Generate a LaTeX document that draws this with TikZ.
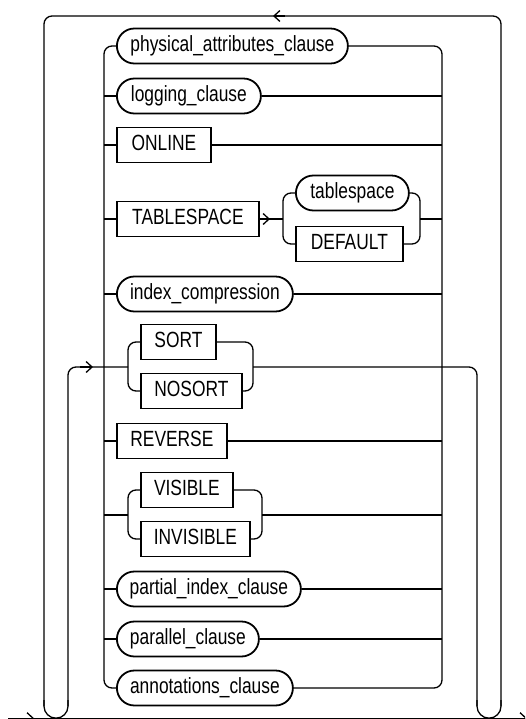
\documentclass[tikz,border=0pt]{standalone}
\usepackage{fontspec}
\setmainfont{Liberation Sans}[FakeStretch=0.79]
\usetikzlibrary{arrows.meta}
\begin{document}
\begin{tikzpicture}[x=1pt,y=-1pt,
  font=\fontsize{22}{26}\selectfont,
  rail/.style={line width=1.3pt},
  kw/.style={draw, rectangle, line width=1.8pt, minimum height=35pt, inner sep=0pt,
             text height=16pt, text depth=4.5pt, anchor=west},
  nt/.style={kw, rounded corners=17.5pt},
  barb/.style={-{Straight Barb[length=6pt,width=11pt]}}]
\useasboundingbox (0,0) rectangle (525,719);
\clip (0,0) rectangle (525,719);

% nodes
\node[nt, minimum width=231pt] (phys) at (116,46) {physical\_attributes\_clause};
\node[nt, minimum width=144pt] (logg) at (116,96) {logging\_clause};
\node[kw, minimum width=94pt] (onl) at (116,145) {ONLINE};
\node[kw, minimum width=142pt] (tbs) at (116,219) {TABLESPACE};
\node[nt, minimum width=113pt] (tsn) at (295,193) {tablespace};
\node[kw, minimum width=107pt] (dflt) at (295,244) {DEFAULT};
\node[nt, minimum width=176pt] (idx) at (116,294) {index\_compression};
\node[kw, minimum width=75pt] (sort) at (140,342) {SORT};
\node[kw, minimum width=101pt] (nosort) at (140,391) {NOSORT};
\node[kw, minimum width=110pt] (rev) at (116,441) {REVERSE};
\node[kw, minimum width=92pt] (vis) at (140,490) {VISIBLE};
\node[kw, minimum width=109pt] (invis) at (140,539) {INVISIBLE};
\node[nt, minimum width=184pt] (part) at (116,589) {partial\_index\_clause};
\node[nt, minimum width=142pt] (par) at (116,639) {parallel\_clause};
\node[nt, minimum width=176pt] (ann) at (116,688) {annotations\_clause};

% helper coordinates
\coordinate (L) at (104,0);
\coordinate (R) at (442,0);
\coordinate (tsL) at (283,219);
\coordinate (tsR) at (420,219);
\coordinate (tsArr) at (270,219);
\coordinate (sL) at (128,367);
\coordinate (sR) at (253,367);
\coordinate (vL) at (128,515);
\coordinate (vR) at (262,515);
\coordinate (sArr) at (93,367);

% inner choice rails
\draw[rail, rounded corners=8] (phys.west) -- (L|-phys.west) -- (L|-ann.west) -- (ann.west);
\draw[rail, rounded corners=8] (phys.east) -- (R|-phys.east) -- (R|-ann.east) -- (ann.east);
\foreach \n in {logg,onl,tbs,idx,rev,part,par} {
  \draw[rail] (L|-\n.west) -- (\n.west);
}
\foreach \n in {logg,onl,idx,rev,part,par} {
  \draw[rail] (\n.east) -- (R|-\n.east);
}

% TABLESPACE choice
\draw[rail] (tbs.east) -- (tsL);
\draw[rail, barb] (tbs.east) -- (tsArr);
\draw[rail, rounded corners=8] (tsn.west) -- (tsL|-tsn.west) -- (tsL|-dflt.west) -- (dflt.west);
\draw[rail, rounded corners=8] (tsn.east) -- (tsR|-tsn.east) -- (tsR|-dflt.east) -- (dflt.east);
\draw[rail] (tsR) -- (R|-tsR);

% SORT choice
\draw[rail, rounded corners=8] (sort.west) -- (sL|-sort.west) -- (sL|-nosort.west) -- (nosort.west);
\draw[rail, rounded corners=8] (sort.east) -- (sR|-sort.east) -- (sR|-nosort.east) -- (nosort.east);

% VISIBLE choice
\draw[rail, rounded corners=8] (vis.west) -- (vL|-vis.west) -- (vL|-invis.west) -- (invis.west);
\draw[rail, rounded corners=8] (vis.east) -- (vR|-vis.east) -- (vR|-invis.east) -- (invis.east);
\draw[rail] (L|-vL) -- (vL);
\draw[rail] (vR) -- (R|-vR);

% big loops
\draw[rail, rounded corners=8] (sR) -- (477,367) -- (477,706);
\draw[rail, rounded corners=12] (477,700) -- (477,718.2) -- (501,718.2) -- (501,700);
\draw[rail, rounded corners=8] (501,706) -- (501,16) -- (44,16) -- (44,706);
\draw[rail, rounded corners=12] (44,700) -- (44,718.2) -- (68,718.2) -- (68,700);
\draw[rail, rounded corners=8] (68,706) -- (68,367) -- (sL);
\draw[rail, barb] (80,367) -- (sArr);
\draw[rail, barb] (285,16) -- (273,16);

% bottom line
\draw[rail] (8,718.2) -- (530,718.2);
\draw[rail, barb] (20,718.2) -- (34,718.2);
\draw[rail, barb] (512,718.2) -- (527,718.2);
\end{tikzpicture}
\end{document}
